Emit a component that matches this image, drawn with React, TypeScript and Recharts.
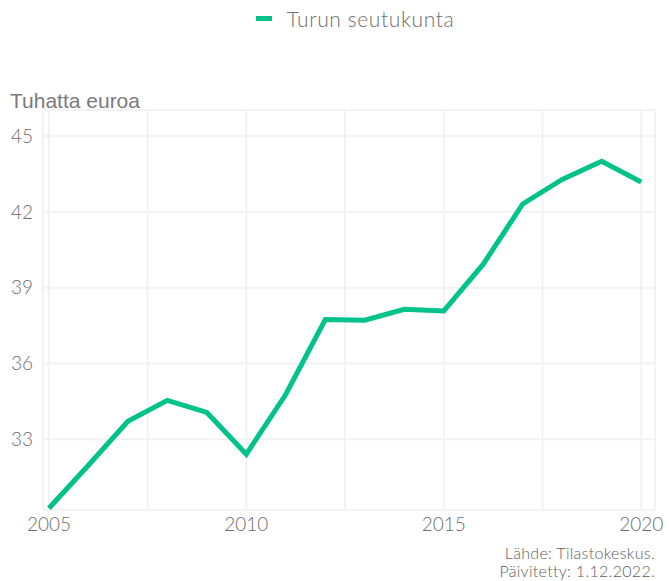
import {
  LineChart,
  Line,
  XAxis,
  YAxis,
  CartesianGrid,
  Legend,
} from "recharts";

// Vuodet ja arvot (tuhatta euroa)
const years = [
  2005, 2006, 2007, 2008, 2009, 2010, 2011, 2012, 2013, 2014, 2015, 2016, 2017,
  2018, 2019, 2020,
];
const turku = [
  30.27, 31.97, 33.71, 34.54, 34.06, 32.41, 34.78, 37.74, 37.71, 38.14, 38.08,
  39.93, 42.31, 43.28, 44.0, 43.18,
];
const seriesName = "Turun seutukunta";
const xTicks = [2005, 2007.5, 2010, 2012.5, 2015, 2017.5, 2020];
const yTicks = [33, 36, 39, 42, 45];
const yTitle = "Tuhatta euroa";
const sourceLines = ["Lähde: Tilastokeskus.", "Päivitetty: 1.12.2022."];

const data = years.map((year, i) => ({ year, value: turku[i] }));

const GREEN = "#00c389";
const GRAY = "#6e6e6e";
const FONT = "Lato, 'Noto Sans', sans-serif";

export default function App() {
  return (
    <div style={{ position: "absolute", left: 0, top: 0, width: 669, height: 581 }}>
      <LineChart
        width={669}
        height={581}
        data={data}
        margin={{ top: 110, right: 14, left: 0, bottom: 41 }}
      >
        <CartesianGrid stroke="#f2f2f2" strokeWidth={2} />
        <XAxis
          dataKey="year"
          type="number"
          domain={[2004.85, 2020.35]}
          ticks={xTicks}
          interval={0}
          tickFormatter={(v) => (Number.isInteger(v) ? String(v) : "")}
          axisLine={false}
          tickLine={false}
          tickMargin={2}
          height={30}
          tick={{ fill: GRAY, fontSize: 19, fontFamily: FONT, fontWeight: 300 }}
        />
        <YAxis
          type="number"
          domain={[30.2, 46.03]}
          ticks={yTicks}
          interval={0}
          axisLine={false}
          tickLine={false}
          tickMargin={4}
          width={43}
          tick={{ fill: GRAY, fontSize: 19, fontFamily: FONT, fontWeight: 300 }}
          label={{
            content: () => (
              <text
                x={10}
                y={108}
                fill="#7a7a7a"
                fontSize={21}
                fontFamily="'Liberation Sans', Arial, sans-serif"
              >
                {yTitle}
              </text>
            ),
          }}
        />
        <Legend
          verticalAlign="middle"
          align="center"
          layout="horizontal"
          wrapperStyle={{ top: 6, left: 0, width: 669 }}
          content={() => (
            <div
              style={{
                display: "flex",
                justifyContent: "center",
                alignItems: "center",
                paddingLeft: 41,
                fontFamily: FONT,
                fontSize: 21,
                fontWeight: 300,
                letterSpacing: 0.6,
                color: GRAY,
              }}
            >
              <span
                style={{
                  display: "inline-block",
                  width: 16,
                  height: 5,
                  background: GREEN,
                  marginRight: 15,
                }}
              />
              {seriesName}
            </div>
          )}
        />
        <Line
          type="linear"
          dataKey="value"
          name={seriesName}
          stroke={GREEN}
          strokeWidth={5}
          dot={false}
          activeDot={false}
          isAnimationActive={false}
        />
      </LineChart>
      <div
        style={{
          position: "absolute",
          right: 14,
          top: 544,
          textAlign: "right",
          fontFamily: FONT,
          fontSize: 16,
          fontWeight: 300,
          letterSpacing: 0.3,
          lineHeight: "18px",
          color: "#5e5e5e",
        }}
      >
        {sourceLines.map((l) => (
          <div key={l}>{l}</div>
        ))}
      </div>
    </div>
  );
}
